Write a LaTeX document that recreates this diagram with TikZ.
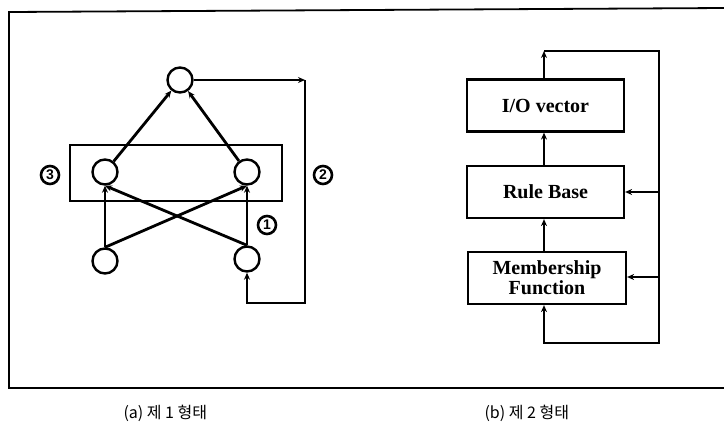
\documentclass[tikz,border=0pt]{standalone}
\usepackage{fontspec}
\setmainfont{Liberation Serif}
\newfontfamily\krfont{Noto Sans CJK KR}
\newfontfamily\numfont{Liberation Sans}
\usetikzlibrary{arrows.meta}
\begin{document}
\begin{tikzpicture}[x=1pt,y=-1pt,
  neuron/.style={circle,draw,line width=2.4pt,minimum size=25pt,inner sep=0pt},
  edge/.style={line width=2.8pt,-{Stealth[length=7pt,width=6pt]}},
  blockbox/.style={draw,line width=2.2pt,minimum width=157pt,minimum height=52pt,inner sep=0pt,align=center,font=\fontsize{20}{20}\selectfont\bfseries},
  numlabel/.style={circle,draw,line width=2.6pt,minimum size=18pt,inner sep=0pt,font=\numfont\fontsize{14}{14}\selectfont\bfseries},
  caption/.style={font=\krfont\fontsize{16}{16}\selectfont,anchor=west}]
\useasboundingbox (0,0) rectangle (724,424);
% frame
\draw[line width=1.8pt] (724,8) -- (9,12) -- (9,388) -- (724,388);
% left diagram
\node[neuron] (T) at (180,80) {};
\node[neuron] (ML) at (105,172) {};
\node[neuron] (MR) at (247,172) {};
\node[neuron] (BL) at (105,261) {};
\node[neuron] (BR) at (247,259) {};
\draw[line width=2pt] (70,145) rectangle (282,201);
\draw[edge] (BL.north) -- (ML.south);
\draw[edge] (BL.north) -- (MR.south);
\draw[edge] (BR.north) -- (ML.south);
\draw[edge] (BR.north) -- (MR.south);
\draw[edge] (ML) -- (T);
\draw[edge] (MR) -- (T);
\coordinate (c1) at (305,80);
\coordinate (c2) at (305,303);
\coordinate (c3) at (247,303);
\draw[edge] (T.east) -- (c1);
\draw[edge] (c1) -- (c2) -- (c3) -- (BR.south);
\node[numlabel] (n3) at (50,175) {3};
\node[numlabel] (n2) at (323,175) {2};
\node[numlabel] (n1) at (267,225) {1};
% right diagram
\node[blockbox] (IO) at (545.5,105.5) {I/O vector};
\node[blockbox] (RB) at (545.5,192) {Rule Base};
\node[blockbox,minimum width=158pt] (MF) at (547,278) {Membership\\Function};
\draw[edge] (RB.north -| 544,0) -- (IO.south -| 544,0);
\draw[edge] (MF.north -| 544,0) -- (RB.south -| 544,0);
\coordinate (d0) at (544,51);
\coordinate (d1) at (659,51);
\coordinate (d2) at (659,343);
\coordinate (d3) at (544,343);
\coordinate (b1) at (659,192);
\coordinate (b2) at (659,277);
\draw[edge] (IO.north -| 544,0) -- (d0);
\draw[edge] (d0) -- (d1) -- (d2) -- (d3) -- (MF.south -| 544,0);
\draw[edge] (b1) -- (RB.east);
\draw[edge] (b2) -- (MF.east |- b2);
% captions
\node[caption] (ca) at (120,413) {(a) 제 1 형태};
\node[caption] (cb) at (481,413) {(b) 제 2 형태};
\end{tikzpicture}
\end{document}
